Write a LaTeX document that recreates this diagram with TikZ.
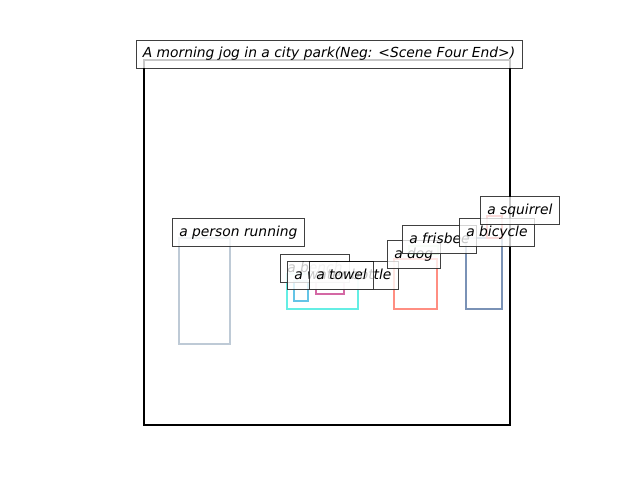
\documentclass[tikz,border=0pt]{standalone}
\usepackage{fontspec}
\setmainfont{DejaVu Sans}
\usetikzlibrary{positioning}

\definecolor{personc}{RGB}{190,202,214}
\definecolor{benchc}{RGB}{100,238,228}
\definecolor{bottlec}{RGB}{100,196,230}
\definecolor{towelc}{RGB}{212,104,164}
\definecolor{dogc}{RGB}{255,142,130}
\definecolor{frisbeec}{RGB}{130,215,130}
\definecolor{bicyclec}{RGB}{122,146,182}
\definecolor{squirrelc}{RGB}{235,90,90}

\begin{document}
\begin{tikzpicture}[x=0.01in, y=-0.01in,
  objbox/.style={line width=1.45pt},
  tag/.style={anchor=south west, draw=black, draw opacity=0.75, fill=white,
    fill opacity=0.78, text opacity=1, font=\itshape\fontsize{10}{12}\selectfont,
    inner xsep=5.06pt, inner ysep=0pt, minimum height=20.2pt,
    text height=7.6pt, text depth=2.4pt}]
  \useasboundingbox (0,0) rectangle (640,480);
  % object boxes
  \draw[objbox, personc] (179,238) rectangle (230,344);
  \draw[objbox, benchc] (287,274) rectangle (358,309);
  \draw[objbox, bottlec] (294,281) rectangle (308,301);
  \draw[objbox, towelc] (316,281) rectangle (344,294);
  \draw[objbox, frisbeec] (409,246) rectangle (438,254);
  \draw[objbox, dogc] (394,259) rectangle (437,309);
  \draw[objbox, bicyclec] (466,238) rectangle (502,309);
  \draw[objbox, squirrelc] (487,216) rectangle (502,238);
  % frame
  \draw[line width=1.6pt] (144,60) rectangle (510,425);
  % labels
  \node[tag] (person) at (172,247) {a person running};
  \node[tag] (bench) at (280,283) {a bench};
  \node[tag] (bottle) at (287,290) {a water bottle};
  \node[tag] (towel) at (309,290) {a towel};
  \node[tag] (dog) at (387,269) {a dog};
  \node[tag] (frisbee) at (402,254) {a frisbee};
  \node[tag] (bicycle) at (459,247) {a bicycle};
  \node[tag] (squirrel) at (480,225) {a squirrel};
  \node[tag, anchor=center] (title) at (329,54) {A morning jog in a city park(Neg: <Scene Four End>)};
\end{tikzpicture}
\end{document}
